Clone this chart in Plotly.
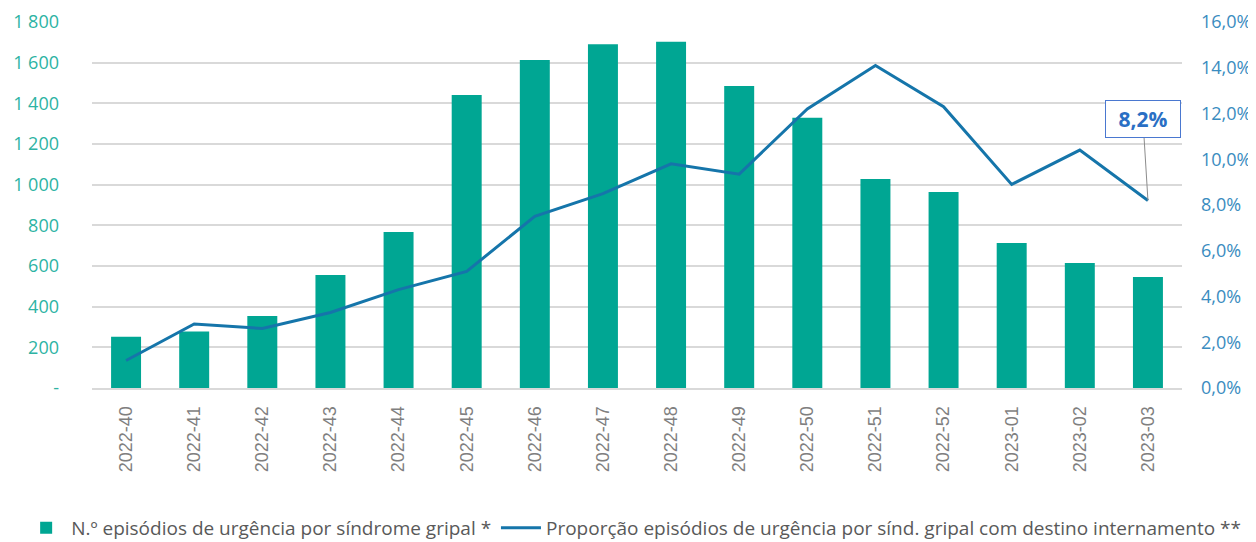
import plotly.graph_objects as go

weeks = ["2022-40", "2022-41", "2022-42", "2022-43", "2022-44", "2022-45", "2022-46", "2022-47",
         "2022-48", "2022-49", "2022-50", "2022-51", "2022-52", "2023-01", "2023-02", "2023-03"]
episodes = [252, 278, 354, 556, 767, 1441, 1613, 1690, 1703, 1485, 1329, 1028, 964, 713, 615, 546]
proportion = [1.2, 2.8, 2.6, 3.3, 4.3, 5.1, 7.5, 8.5, 9.8, 9.35, 12.2, 14.1, 12.3, 8.9, 10.4, 8.2]

left_tickvals = [0, 200, 400, 600, 800, 1000, 1200, 1400, 1600, 1800]
left_ticktext = ["-", "200", "400", "600", "800", "1 000", "1 200", "1 400", "1 600", "1 800"]
right_tickvals = [0, 2, 4, 6, 8, 10, 12, 14, 16]
right_ticktext = ["0,0%", "2,0%", "4,0%", "6,0%", "8,0%", "10,0%", "12,0%", "14,0%", "16,0%"]

name_bar = "N.º episódios de urgência por síndrome gripal *"
name_line = "Proporção episódios de urgência por sínd. gripal com destino internamento **"
last_label = "8,2%"

BAR = "#00A693"
LINE = "#1575AA"

fig = go.Figure()
fig.add_trace(go.Bar(x=weeks, y=episodes, name=name_bar, marker=dict(color=BAR, line=dict(width=0)),
                     yaxis="y", legend="legend"))
fig.add_trace(go.Scatter(x=weeks, y=proportion, name=name_line, mode="lines",
                         line=dict(color=LINE, width=3), yaxis="y2", legend="legend2"))

fig.add_annotation(x=weeks[-1], y=proportion[-1], xref="x", yref="y2", text="<b>" + last_label + "</b>",
                   showarrow=True, arrowhead=0, arrowwidth=1, arrowcolor="#8C8C8C",
                   ax=-5, ay=-81, width=64, height=26,
                   font=dict(family="Open Sans", size=21, color="#2A6FC4"),
                   bordercolor="#4A78D0", borderwidth=1, borderpad=5, bgcolor="white")

legend_font = dict(family="Open Sans", size=19, color="#595959")

# page has an 8px body margin: figure occupies 8..1256 x 8..542
fig.update_layout(
    width=1248, height=534,
    margin=dict(l=84, r=74, t=14, b=154, autoexpand=False),
    plot_bgcolor="white", paper_bgcolor="white",
    bargap=0.56,
    font=dict(family="Open Sans", color="#595959"),
    xaxis=dict(type="category", tickangle=-90, showgrid=False, automargin=False,
               tickfont=dict(family="Liberation Sans", size=18, color="#7F7F7F"),
               showline=True, linecolor="#D9D9D9", linewidth=2, ticks="", ticklabelstandoff=9),
    yaxis=dict(range=[0, 1800], tickvals=left_tickvals, ticktext=left_ticktext, automargin=False,
               showgrid=True, gridcolor="#D9D9D9", gridwidth=1.5, zeroline=False,
               tickfont=dict(family="Open Sans", size=18, color="#2DB3A3"),
               ticklabelstandoff=32),
    yaxis2=dict(range=[0, 16], tickvals=right_tickvals, ticktext=right_ticktext, automargin=False,
                overlaying="y", side="right", showgrid=False, zeroline=False,
                tickfont=dict(family="Open Sans", size=18, color="#3A8CC0"),
                ticklabelstandoff=18),
    showlegend=True,
    legend=dict(orientation="h", x=-0.065, xanchor="left", y=-0.3825, yanchor="middle",
                font=legend_font, itemwidth=40),
    legend2=dict(orientation="h", x=0.3706, xanchor="left", y=-0.3825, yanchor="middle",
                 font=legend_font, itemwidth=40),
)

fig.write_html("out.html")
